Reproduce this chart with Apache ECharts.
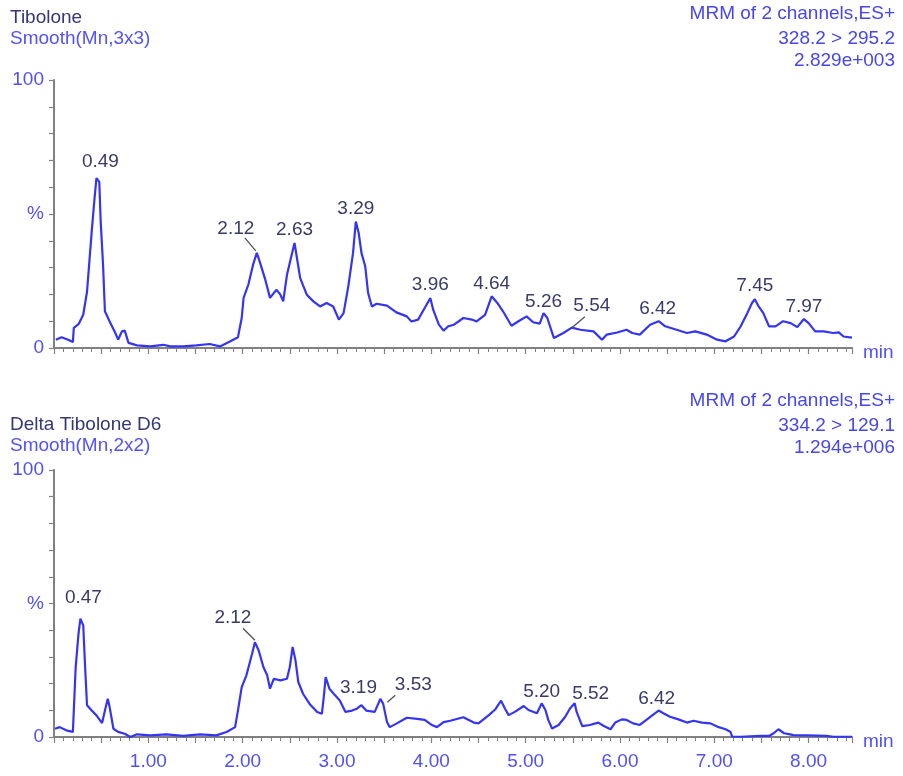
<!DOCTYPE html>
<html><head><meta charset="utf-8">
<script src="https://cdn.jsdelivr.net/npm/echarts@6/dist/echarts.min.js"></script>
<style>html,body{margin:0;padding:0;background:#fff}#c{width:903px;height:776px}</style>
</head><body><div id="c"></div>
<script>
// ---- data ----
const topTimes = [0.02,0.08,0.15,0.20,0.21,0.26,0.31,0.35,0.40,0.43,0.45,0.48,0.495,0.52,0.54,0.59,0.65,0.68,0.72,0.75,0.79,0.88,1.02,1.16,1.23,1.37,1.51,1.65,1.76,1.87,1.95,1.99,2.01,2.06,2.11,2.15,2.18,2.24,2.29,2.33,2.36,2.40,2.43,2.47,2.52,2.55,2.57,2.61,2.68,2.75,2.82,2.89,2.96,3.02,3.07,3.12,3.17,3.20,3.23,3.26,3.30,3.33,3.37,3.42,3.53,3.63,3.74,3.79,3.86,3.93,3.99,4.02,4.08,4.13,4.18,4.24,4.34,4.43,4.48,4.57,4.64,4.70,4.76,4.85,4.92,5.01,5.08,5.15,5.19,5.23,5.30,5.40,5.49,5.58,5.72,5.81,5.86,5.97,6.07,6.13,6.21,6.32,6.41,6.48,6.60,6.71,6.80,6.92,7.03,7.12,7.21,7.28,7.35,7.40,7.43,7.47,7.52,7.58,7.65,7.73,7.81,7.88,7.95,8.00,8.07,8.16,8.26,8.32,8.37,8.46];
const topValues = [3.1,4.0,3.1,2.2,7.5,8.9,12.4,21,43.5,55.9,63.4,62,47.2,31,13.7,9.9,5.6,3.1,6.2,6.5,1.9,1.0,0.6,1.2,0.6,0.6,1.0,1.5,0.6,2.5,4.0,11.2,18.7,23.6,31,35.5,32.3,25.5,18.7,20.5,21.7,19.9,17.4,27.3,34.8,39.2,34.8,26.1,19.9,17.4,15.5,16.8,15.5,10.6,13.0,23,35.4,47.2,42.9,35.4,30.4,20.5,15.5,16.5,15.8,13.3,11.8,9.9,10.6,14.9,18.6,14.3,8.7,6.5,8.1,8.7,11.2,10.6,9.9,12.4,19.3,16.8,13.7,8.3,9.9,11.8,9.6,9.1,13.0,11.2,3.7,5.6,7.6,6.8,6.2,3.1,5.0,5.8,6.8,5.6,5.0,8.7,10.0,8.1,6.8,5.6,6.2,5.0,3.1,2.5,4.3,8.1,13.0,16.8,18.2,15.5,13.0,8.1,8.1,10.0,9.3,7.8,10.8,9.3,6.2,6.2,5.6,5.8,4.3,3.9];

const bottomTimes = [0.01,0.06,0.13,0.20,0.21,0.23,0.26,0.28,0.31,0.33,0.35,0.40,0.45,0.51,0.54,0.57,0.59,0.63,0.68,0.75,0.81,0.88,1.02,1.19,1.37,1.55,1.72,1.83,1.92,1.95,1.99,2.04,2.10,2.13,2.17,2.22,2.26,2.29,2.33,2.40,2.47,2.50,2.53,2.56,2.59,2.64,2.71,2.79,2.84,2.86,2.88,2.92,2.98,3.03,3.09,3.16,3.21,3.26,3.31,3.40,3.46,3.49,3.53,3.56,3.63,3.74,3.85,3.93,4.00,4.06,4.13,4.20,4.34,4.45,4.50,4.61,4.68,4.74,4.78,4.82,4.89,4.98,5.03,5.12,5.17,5.21,5.24,5.28,5.35,5.42,5.47,5.52,5.54,5.60,5.68,5.77,5.83,5.90,5.95,5.97,6.02,6.07,6.14,6.21,6.28,6.36,6.41,6.46,6.53,6.62,6.71,6.78,6.87,6.96,7.03,7.12,7.17,7.19,7.28,7.49,7.58,7.63,7.68,7.74,7.79,7.84,7.98,8.09,8.19,8.26,8.37,8.46];
const bottomValues = [3.1,3.7,2.5,1.9,9.9,26.2,38.7,44.3,41.8,26.2,11.9,9.9,8.1,5.2,9.9,14.3,11.2,3.1,1.9,1.2,0,1.0,0.6,1.0,0.4,1.0,0.6,1.9,3.7,9.9,18.7,23.1,31.2,35.5,32.4,26.2,23.1,18.1,21.8,21.2,21.8,26.2,33.7,28.7,20.6,16.2,12.4,9.4,8.7,14.9,22.4,18.1,15.6,13.7,9.4,9.9,10.6,11.9,9.9,9.4,14.3,12.4,5.6,3.7,5.0,7.2,6.8,6.4,4.6,3.7,5.6,6.1,7.4,5.4,5.1,8.2,10.4,13.6,10.7,8.2,9.5,11.6,10.1,8.9,12.6,10.1,6.4,3.2,4.5,7.6,10.7,12.6,9.5,4.1,4.5,5.4,4.1,2.9,5.4,6.1,6.6,6.4,5.1,4.5,6.4,8.6,9.9,8.9,7.6,6.6,5.4,6.1,5.4,5.1,3.9,2.9,2.0,0.1,0.1,0.4,0.4,1.4,2.9,1.4,1.1,0.7,0.6,0.5,0.4,0.1,0.1,0.1];

const topPeakTimes = [0.45,2.15,2.55,3.20,3.99,4.64,5.19,5.49,6.41,7.43,7.95];
const topPeakValues = [63.4,35.5,39.2,47.2,18.6,19.3,13.0,7.6,10.0,18.2,10.8];
const topPeakLabels = ['0.49','2.12','2.63','3.29','3.96','4.64','5.26','5.54','6.42','7.45','7.97'];

const bottomPeakTimes = [0.28,2.13,3.26,3.47,5.17,5.52,6.41];
const bottomPeakValues = [44.3,35.5,11.9,13.0,12.6,12.6,9.9];
const bottomPeakLabels = ['0.47','2.12','3.19','3.53','5.20','5.52','6.42'];

const xTickLabels = ['1.00','2.00','3.00','4.00','5.00','6.00','7.00','8.00'];
const yTickLabels = ['0','%','100'];
const yTickValues = [0,50,100];

const topHeader = ['Tibolone','Smooth(Mn,3x3)'];
const topInfo = ['MRM of 2 channels,ES+','328.2 > 295.2','2.829e+003'];
const bottomHeader = ['Delta Tibolone D6','Smooth(Mn,2x2)'];
const bottomInfo = ['MRM of 2 channels,ES+','334.2 > 129.1','1.294e+006'];

// ---- styles / layout ----
const FONT = '"Liberation Sans", Arial, sans-serif';
const FS = 19;
const LINE_COLOR = '#3434f4';
const AXIS_TEXT = '#5050fb';
const PEAK_TEXT = '#3a3a6c';
const AXIS_GRAY = '#808080';

const topOffsets = {
  '0.49': {dx:4, dy:-16},
  '2.12': {dx:-21, dy:-24, leader:[-12,-15,-1,-2]},
  '5.26': {dx:0, dy:-11},
  '5.54': {dx:20, dy:-22, leader:[0,0,13,-11]},
  '6.42': {dx:-1, dy:-12},
  '7.97': {dx:0, dy:-12}
};
const bottomOffsets = {
  '0.47': {dx:3, dy:-21},
  '2.12': {dx:-22, dy:-24, leader:[-12,-14,0,-2]},
  '3.19': {dx:-3, dy:-17},
  '3.53': {dx:32, dy:-18, leader:[6,0,14,-7]},
  '5.20': {dx:0, dy:-12},
  '5.52': {dx:16, dy:-10},
  '6.42': {dx:-2, dy:-12}
};

function zip(a,b){ return a.map((t,i)=>[t,b[i]]); }

function labelSeries(idx, times, values, labels, offsets){
  return {
    type:'custom', xAxisIndex:idx, yAxisIndex:idx, clip:false, silent:true, z:5,
    data: times.map((t,i)=>[t, values[i], i]),
    renderItem: function(params, api){
      const i = api.value(2);
      const p = api.coord([api.value(0), api.value(1)]);
      const o = offsets[labels[i]] || {dx:0, dy:-13};
      const children = [{
        type:'text',
        style:{text:labels[i], x:p[0]+o.dx, y:p[1]+o.dy, align:'center', verticalAlign:'middle',
               textAlign:'center', textVerticalAlign:'middle',
               font: FS+'px '+FONT, fill:PEAK_TEXT}
      }];
      if (o.leader) {
        children.push({type:'line', shape:{x1:p[0]+o.leader[0], y1:p[1]+o.leader[1], x2:p[0]+o.leader[2], y2:p[1]+o.leader[3]},
          style:{stroke:'#505060', lineWidth:1.3}});
      }
      return {type:'group', children:children};
    }
  };
}

function xAxis(idx, showLabels){
  return {
    type:'value', gridIndex:idx, min:0, max:8.46, interval:0.5,
    name:'min', nameLocation:'end', nameGap:11,
    nameTextStyle:{color:AXIS_TEXT, fontSize:FS, fontFamily:FONT, verticalAlign:'top', lineHeight:10},
    axisLine:{show:true, onZero:false, lineStyle:{color:AXIS_GRAY, width:2}},
    axisTick:{show:true, length:6, lineStyle:{color:AXIS_GRAY, width:1.2}},
    minorTick:{show:true, splitNumber:5, length:4, lineStyle:{color:AXIS_GRAY, width:1}},
    splitLine:{show:false}, minorSplitLine:{show:false},
    axisLabel:{show:showLabels, margin:15, color:AXIS_TEXT, fontSize:FS, fontFamily:FONT,
      showMinLabel:false, showMaxLabel:false,
      formatter:function(v){ const s = v.toFixed(2); return xTickLabels.indexOf(s) >= 0 ? s : ''; }}
  };
}
function yAxis(idx){
  return {
    type:'value', gridIndex:idx, min:0, max:100, interval:10,
    axisLine:{show:true, lineStyle:{color:AXIS_GRAY, width:2}},
    axisTick:{show:true, length:5, lineStyle:{color:AXIS_GRAY, width:1.2}},
    splitLine:{show:false},
    axisLabel:{show:true, margin:10, color:AXIS_TEXT, fontSize:FS, fontFamily:FONT,
      formatter:function(v){ const k = yTickValues.indexOf(Math.round(v)); return k>=0 ? yTickLabels[k] : ''; }}
  };
}

function headerTexts(lines, y0){
  return [
    {type:'text', x:10, y:y0, style:{text:lines[0], font:FS+'px '+FONT, fill:'#36367a', verticalAlign:'middle', textVerticalAlign:'middle'}},
    {type:'text', x:10, y:y0+21, style:{text:lines[1], font:FS+'px '+FONT, fill:'#5252ff', verticalAlign:'middle', textVerticalAlign:'middle'}}
  ];
}
function infoTexts(lines, y0){
  const ys = [0, 25, 47];
  return lines.map((s,i)=>({type:'text', x:895, y:y0+ys[i],
    style:{text:s, font:FS+'px '+FONT, fill:'#4646f0', align:'right', textAlign:'right', verticalAlign:'middle', textVerticalAlign:'middle'}}));
}

const chart = echarts.init(document.getElementById('c'), null, {renderer:'canvas'});
chart.setOption({
  animation:false,
  backgroundColor:'#ffffff',
  grid:[{left:54, right:51, top:80, height:268}, {left:54, right:51, top:470, height:267}],
  xAxis:[xAxis(0,false), xAxis(1,true)],
  yAxis:[yAxis(0), yAxis(1)],
  graphic: [].concat(headerTexts(topHeader,18), infoTexts(topInfo,14), headerTexts(bottomHeader,425), infoTexts(bottomInfo,401)),
  series:[
    {type:'line', xAxisIndex:0, yAxisIndex:0, data:zip(topTimes,topValues), showSymbol:false, symbol:'none',
     lineStyle:{color:LINE_COLOR, width:2.2}, z:3},
    {type:'line', xAxisIndex:1, yAxisIndex:1, data:zip(bottomTimes,bottomValues), showSymbol:false, symbol:'none',
     lineStyle:{color:LINE_COLOR, width:2.2}, z:3},
    labelSeries(0, topPeakTimes, topPeakValues, topPeakLabels, topOffsets),
    labelSeries(1, bottomPeakTimes, bottomPeakValues, bottomPeakLabels, bottomOffsets)
  ]
});
</script>
</body></html>
